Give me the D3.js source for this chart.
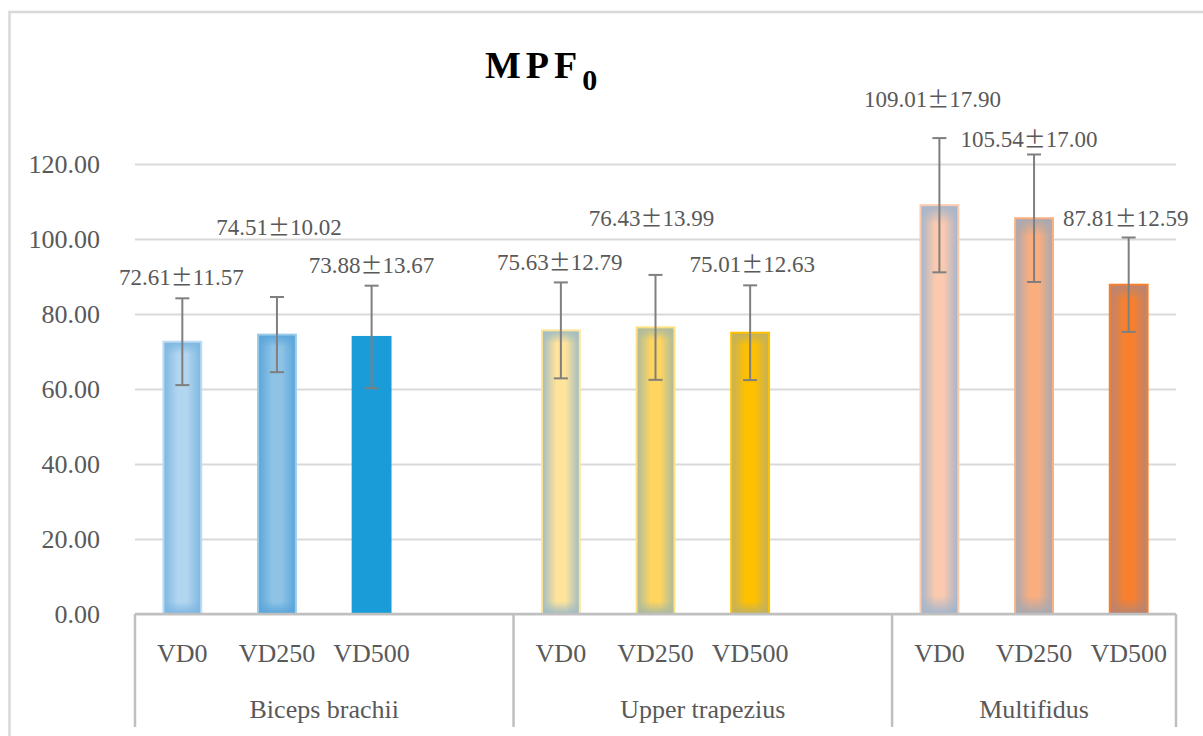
<!DOCTYPE html>
<html>
<head>
<meta charset="utf-8">
<script src="https://cdn.jsdelivr.net/npm/d3@7"></script>
<style>
  html, body { margin: 0; padding: 0; background: #fff; }
  svg { display: block; }
</style>
</head>
<body>
<svg id="chart" width="1203" height="736"></svg>
<script>
// ---------- data ----------
const groups = ["Biceps brachii", "Upper trapezius", "Multifidus"];
const conditions = ["VD0", "VD250", "VD500"];
const means = [72.61, 74.51, 73.88, 75.63, 76.43, 75.01, 109.01, 105.54, 87.81];
const sds   = [11.57, 10.02, 13.67, 12.79, 13.99, 12.63, 17.90, 17.00, 12.59];
const yTicks = [0, 20, 40, 60, 80, 100, 120];
const titleMain = "MPF";
const titleSub = "0";

// ---------- styles / layout ----------
const barStyles = [
  {center: "#B2D5F0", edge: "#7DB6E1", stroke: "#BDDCF3"},
  {center: "#8EC3E6", edge: "#5AA5DA", stroke: "#9ACBEB"},
  {center: "#1A9CD8", edge: "#1A9CD8", stroke: "#1A9CD8"},
  {center: "#FFE39B", edge: "#9FBCC4", stroke: "#FFE699"},
  {center: "#FFD560", edge: "#A9BAA0", stroke: "#FFE080"},
  {center: "#FFC000", edge: "#C2B160", stroke: "#FFC000"},
  {center: "#FBC9AE", edge: "#A3B5CC", stroke: "#FCCBAE"},
  {center: "#F9AE7F", edge: "#A7A8B2", stroke: "#FAB081"},
  {center: "#F7802F", edge: "#B88572", stroke: "#F7802F"}
];
// label nudges relative to (bar centre, top of error bar)
const labelNudge = [[-1,-13],[2,-62],[0,-13],[-1,-12],[-4,-49],[2,-13],[-7,-31],[-5,-7],[-3,-12]];

const svg = d3.select("#chart");
const W = 1203, H = 736;
const plot = {left: 135, right: 1176, top: 164, bottom: 614};
const font = "'Liberation Serif', 'DejaVu Serif', serif";
const textColor = "#595959";

svg.append("rect").attr("width", W).attr("height", H).attr("fill", "#fff");
// outer chart frame (partially visible)
svg.append("rect").attr("x", 9.5).attr("y", 12).attr("width", 1300).attr("height", 900)
  .attr("fill", "none").attr("stroke", "#D9D9D9").attr("stroke-width", 2.5);

// slots: each group's conditions followed by a blank slot (except last group)
const slots = [];
const barItems = [];
groups.forEach((g, gi) => {
  conditions.forEach((c, ci) => {
    const id = gi + "-" + c;
    slots.push(id);
    const k = gi * conditions.length + ci;
    barItems.push({id, group: g, cond: c, mean: means[k], sd: sds[k], k});
  });
  if (gi < groups.length - 1) slots.push(gi + "-blank");
});

const x = d3.scaleBand().domain(slots).range([plot.left, plot.right])
  .paddingInner(0.6).paddingOuter(0.3);
const y = d3.scaleLinear().domain([0, 120]).range([plot.bottom, plot.top]);

// gridlines
svg.append("g")
  .attr("transform", `translate(${plot.left},0)`)
  .call(d3.axisLeft(y).tickValues(yTicks).tickSize(-(plot.right - plot.left)).tickFormat(""))
  .call(g => g.select(".domain").remove())
  .call(g => g.selectAll("line").attr("stroke", "#D9D9D9").attr("stroke-width", 2));

// y tick labels
svg.append("g")
  .attr("transform", `translate(${plot.left},0)`)
  .call(d3.axisLeft(y).tickValues(yTicks).tickSize(0).tickPadding(35).tickFormat(d3.format(".2f")))
  .call(g => g.select(".domain").remove())
  .call(g => g.selectAll("text").attr("font-family", font).attr("font-size", 26)
    .attr("fill", textColor).attr("dy", "0.32em"));

// gradients
const defs = svg.append("defs");
barItems.forEach((d, i) => {
  const s = barStyles[i];
  const gh = defs.append("linearGradient").attr("id", "gh" + i)
    .attr("x1", 0).attr("x2", 1).attr("y1", 0).attr("y2", 0);
  gh.append("stop").attr("offset", 0).attr("stop-color", s.edge);
  gh.append("stop").attr("offset", 0.38).attr("stop-color", s.center);
  gh.append("stop").attr("offset", 0.62).attr("stop-color", s.center);
  gh.append("stop").attr("offset", 1).attr("stop-color", s.edge);
  const gv = defs.append("linearGradient").attr("id", "gv" + i)
    .attr("x1", 0).attr("x2", 0).attr("y1", 0).attr("y2", 1);
  gv.append("stop").attr("offset", 0).attr("stop-color", s.edge).attr("stop-opacity", 1);
  gv.append("stop").attr("offset", 0.045).attr("stop-color", s.edge).attr("stop-opacity", 0);
  gv.append("stop").attr("offset", 0.955).attr("stop-color", s.edge).attr("stop-opacity", 0);
  gv.append("stop").attr("offset", 1).attr("stop-color", s.edge).attr("stop-opacity", 1);
});

// bars
const bars = svg.append("g");
barItems.forEach((d, i) => {
  const bx = x(d.id), bw = x.bandwidth(), by = y(d.mean), bh = y(0) - y(d.mean);
  bars.append("rect").attr("x", bx).attr("y", by).attr("width", bw).attr("height", bh)
    .attr("fill", `url(#gh${i})`);
  bars.append("rect").attr("x", bx).attr("y", by).attr("width", bw).attr("height", bh)
    .attr("fill", `url(#gv${i})`);
  bars.append("rect").attr("x", bx).attr("y", by).attr("width", bw).attr("height", bh)
    .attr("fill", "none").attr("stroke", barStyles[i].stroke).attr("stroke-width", 2);
});

// x axis baseline and group separators
const step = x.step();
const axisG = svg.append("g");
axisG.append("line").attr("x1", plot.left).attr("x2", plot.right)
  .attr("y1", y(0)).attr("y2", y(0)).attr("stroke", "#BFBFBF").attr("stroke-width", 2.5);
const groupSpans = groups.map((g, gi) => {
  const start = plot.left + gi * (conditions.length + 1) * step;
  const end = Math.min(start + (conditions.length + 1) * step, plot.right);
  return {g, start, end};
});
const seps = [plot.left, ...groupSpans.map(s => s.end)];
seps.forEach(sx => {
  axisG.append("line").attr("x1", sx).attr("x2", sx).attr("y1", y(0)).attr("y2", 727)
    .attr("stroke", "#BFBFBF").attr("stroke-width", 2.5);
});

// category labels
barItems.forEach(d => {
  svg.append("text").attr("x", x(d.id) + x.bandwidth() / 2).attr("y", 662)
    .attr("text-anchor", "middle").attr("font-family", font).attr("font-size", 26)
    .attr("fill", textColor).text(d.cond);
});
groupSpans.forEach(s => {
  svg.append("text").attr("x", (s.start + s.end) / 2).attr("y", 718)
    .attr("text-anchor", "middle").attr("font-family", font).attr("font-size", 26)
    .attr("fill", textColor).text(s.g);
});

// error bars
const eb = svg.append("g").attr("stroke", "#7F7F7F").attr("stroke-width", 2);
barItems.forEach(d => {
  const cx = x(d.id) + x.bandwidth() / 2;
  eb.append("line").attr("x1", cx).attr("x2", cx).attr("y1", y(d.mean - d.sd)).attr("y2", y(d.mean + d.sd));
  [d.mean - d.sd, d.mean + d.sd].forEach(v => {
    eb.append("line").attr("x1", cx - 7).attr("x2", cx + 7).attr("y1", y(v)).attr("y2", y(v));
  });
});

// data labels (mean ± sd, full-width ± as in the original)
barItems.forEach((d, i) => {
  const cx = x(d.id) + x.bandwidth() / 2;
  const t = svg.append("text").attr("x", cx + labelNudge[i][0]).attr("y", y(d.mean + d.sd) + labelNudge[i][1])
    .attr("text-anchor", "middle").attr("font-family", font).attr("font-size", 23)
    .attr("fill", textColor);
  t.append("tspan").text(d.mean.toFixed(2));
  t.append("tspan").attr("font-family", "'Noto Sans CJK SC', 'Noto Sans CJK JP', sans-serif")
    .attr("font-size", 22).text("±");
  t.append("tspan").text(d.sd.toFixed(2));
});

// title
const title = svg.append("text").attr("x", 485).attr("y", 78)
  .attr("font-family", font).attr("font-weight", "bold").attr("fill", "#000");
title.append("tspan").attr("font-size", 38).attr("letter-spacing", 5).text(titleMain);
title.append("tspan").attr("font-size", 30).attr("dy", 12).text(titleSub);
</script>
</body>
</html>
